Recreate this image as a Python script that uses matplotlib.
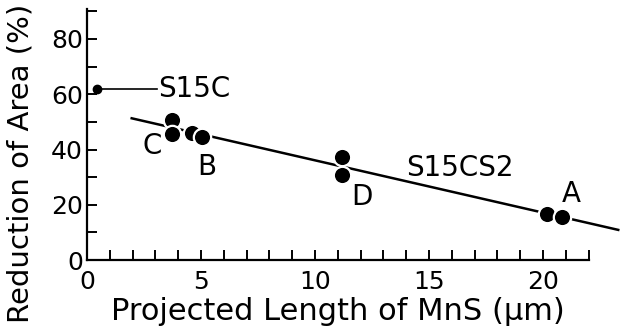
import matplotlib.pyplot as plt
from matplotlib.ticker import MultipleLocator

plt.rcParams['font.family'] = ['DejaVu Sans']

# S15CS2 specimens (projected length um, reduction of area %)
pts_x = [3.71, 3.71, 4.59, 5.03, 11.17, 11.17, 20.19, 20.85]
pts_y = [50.7, 45.6, 45.9, 44.5, 37.4, 30.8, 16.7, 15.7]
# fitted line for S15CS2
line_x = [1.96, 23.3]
line_y = [51.3, 10.9]
# S15C reference point
ref_x = [0.43]
ref_y = [62.0]

fig = plt.figure(figsize=(6.2, 3.35), dpi=100)
ax = fig.add_axes([87/620, 75/335, (22*22.8)/620, (91*2.7625)/335])

ax.plot(line_x, line_y, color='black', lw=1.8, clip_on=False, zorder=2)
ax.plot(pts_x, pts_y, 'o', color='black', ms=12.5, mec='white', mew=1.6,
        clip_on=False, zorder=3)
ax.plot(ref_x, ref_y, 'o', color='black', ms=6, clip_on=False, zorder=3)
ax.plot([ref_x[0], 3.05], [ref_y[0], ref_y[0]], color='black', lw=1.2,
        clip_on=False)

ax.text(3.12, 62.0, 'S15C', fontsize=20, va='center', ha='left')
ax.text(16.36, 33.3, 'S15CS2', fontsize=20, va='center', ha='center')
ax.text(2.84, 41.1, 'C', fontsize=20, va='center', ha='center')
ax.text(5.25, 33.8, 'B', fontsize=20, va='center', ha='center')
ax.text(12.06, 22.8, 'D', fontsize=20, va='center', ha='center')
ax.text(21.26, 23.9, 'A', fontsize=20, va='center', ha='center')

ax.set_xlim(0, 22)
ax.set_ylim(0, 91)
ax.xaxis.set_major_locator(MultipleLocator(5))
ax.xaxis.set_minor_locator(MultipleLocator(1))
ax.yaxis.set_major_locator(MultipleLocator(20))
ax.yaxis.set_minor_locator(MultipleLocator(10))
ax.set_yticks([0, 20, 40, 60, 80])

for s in ['top', 'right']:
    ax.spines[s].set_visible(False)
for s in ['left', 'bottom']:
    ax.spines[s].set_linewidth(1.6)

ax.tick_params(which='both', direction='in', length=7, width=1.4,
               labelsize=18)
ax.tick_params(axis='x', pad=7)
ax.tick_params(axis='y', pad=3)

ax.set_xlabel('Projected Length of MnS (µm)', fontsize=22, labelpad=2)
fig.text(21/620, (335-4)/335, 'Reduction of Area (%)', fontsize=21,
         rotation=90, ha='center', va='top')

fig.savefig('out.png', dpi=100)
